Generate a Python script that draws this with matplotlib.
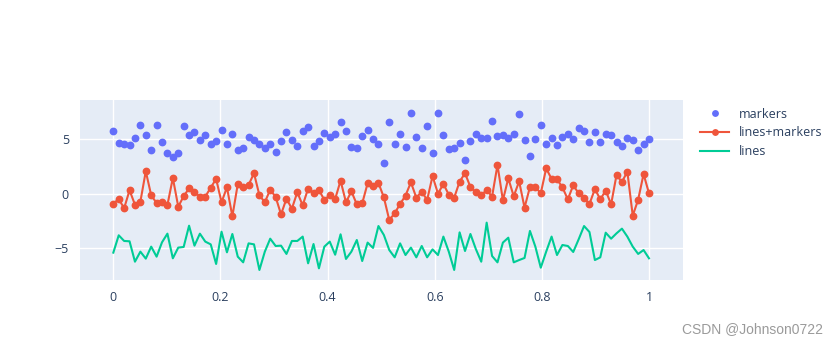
import numpy as np
import matplotlib
matplotlib.use("Agg")
import matplotlib.pyplot as plt

plt.rcParams['font.family'] = ['Open Sans', 'DejaVu Sans']

# 100 points on [0, 1]
x = np.linspace(0, 1, 100)

markers_y = [
    5.78, 4.65, 4.59, 4.50, 5.17, 6.33, 5.41, 4.04, 6.33, 4.74,
    3.73, 3.36, 3.73, 6.21, 5.44, 5.66, 4.98, 5.41, 4.59, 4.86,
    5.90, 4.62, 5.54, 4.06, 4.19, 5.26, 4.95, 4.56, 4.25, 4.59,
    3.82, 4.83, 5.69, 4.92, 4.43, 5.78, 6.18, 4.43, 4.83, 5.57,
    5.26, 5.47, 6.64, 5.75, 4.34, 4.25, 5.35, 5.84, 5.08, 4.59,
    2.87, 6.61, 4.62, 5.50, 4.28, 7.46, 5.20, 4.19, 6.24, 3.73,
    7.46, 5.38, 4.13, 4.25, 4.65, 3.12, 4.89, 5.47, 5.17, 5.17,
    6.70, 5.35, 5.44, 5.17, 5.47, 7.34, 4.95, 3.49, 5.02, 6.36,
    4.56, 5.14, 4.46, 5.26, 5.50, 5.05, 6.09, 5.78, 4.74, 5.72,
    4.74, 5.47, 5.44, 4.80, 4.40, 5.11, 4.95, 4.04, 4.59, 5.02,
]

lines_markers_y = [
    -0.89, -0.46, -1.31, 0.34, -0.98, -0.70, 2.08, -0.12, -0.83, -0.70,
    -1.01, 1.47, -1.16, -0.21, 0.52, 0.15, -0.24, -0.24, 0.58, 1.38,
    -0.76, 0.61, -2.05, 0.90, 0.61, 0.83, 1.90, -0.12, -0.76, 0.40,
    -0.28, -1.87, -0.43, -1.35, 0.15, -1.04, 0.49, 0.09, 0.37, -0.55,
    -0.09, -0.46, 1.22, -0.76, 0.24, -0.95, -0.86, 0.98, 0.73, 1.01,
    -0.31, -2.39, -1.77, -0.92, -0.15, 1.07, -0.34, 0.21, -0.55, 1.65,
    0.03, 0.92, -0.06, -0.34, 1.13, 1.90, 0.64, 0.15, -0.12, 0.37,
    -0.24, 2.66, -0.58, 1.44, -0.21, 1.16, -1.25, 0.64, 0.64, 0.06,
    2.35, 1.38, 1.35, 0.61, -0.49, 0.80, 0.06, -0.37, -0.92, 0.46,
    -0.49, 0.31, -0.95, 1.74, 1.10, 2.05, -1.99, -0.52, 1.83, 0.06,
]

lines_y = [
    -5.38, -3.79, -4.31, -4.34, -6.21, -5.29, -5.93, -4.83, -5.75, -4.43,
    -3.64, -5.90, -4.92, -4.86, -2.91, -4.74, -3.64, -4.37, -4.62, -6.42,
    -3.46, -5.35, -3.67, -5.75, -6.27, -4.53, -4.62, -6.97, -5.29, -4.10,
    -4.77, -4.74, -5.50, -4.31, -4.31, -3.91, -6.36, -4.59, -6.82, -4.83,
    -4.37, -5.57, -3.70, -5.96, -5.29, -4.22, -6.15, -4.46, -4.95, -2.94,
    -3.76, -5.14, -5.81, -4.53, -5.60, -4.92, -5.81, -4.77, -5.81, -5.08,
    -5.60, -3.91, -5.29, -6.97, -3.52, -5.23, -3.67, -5.05, -6.21, -2.63,
    -5.69, -6.27, -4.46, -4.01, -6.27, -6.06, -5.87, -3.39, -4.83, -6.76,
    -5.29, -3.91, -5.60, -4.68, -4.77, -5.32, -4.16, -2.94, -3.49, -6.06,
    -5.81, -3.55, -4.10, -3.61, -3.18, -3.91, -4.83, -5.50, -5.14, -5.90,
]

xticks = [0, 0.2, 0.4, 0.6, 0.8, 1]
xtick_labels = ['0', '0.2', '0.4', '0.6', '0.8', '1']
yticks = [-5, 0, 5]
ytick_labels = ['\u22125', '0', '5']

fig = plt.figure(figsize=(8.39, 3.6), dpi=100)
ax = fig.add_axes([80 / 839, 1 - 280 / 360, (683 - 80) / 839, 180 / 360])
ax.set_facecolor('#E5ECF6')

ax.plot(x, markers_y, 'o', color='#636efa', markersize=4.6, label='markers', zorder=3)
ax.plot(x, lines_markers_y, '-o', color='#EF553B', markersize=4.6, linewidth=1.5,
        label='lines+markers', zorder=3)
ax.plot(x, lines_y, '-', color='#00cc96', linewidth=1.5, label='lines', zorder=3)

ax.set_xlim(-0.0622, 1.0635)
ax.set_ylim(-7.89, 8.62)
ax.set_xticks(xticks, xtick_labels)
ax.set_yticks(yticks, ytick_labels)
ax.grid(color='white', linewidth=1)
ax.set_axisbelow(True)
for s in ax.spines.values():
    s.set_visible(False)
ax.tick_params(length=0, labelsize=9, colors='#2a3f5f', pad=8)

leg = ax.legend(loc='upper left', bbox_to_anchor=(1.01, 1.02), frameon=False,
                fontsize=9, handlelength=2.3, labelspacing=0.45, markerscale=0.85)
for t in leg.get_texts():
    t.set_color('#2a3f5f')

fig.text(0.981, 0.085, 'CSDN @Johnson0722', ha='right', va='center',
         fontsize=10, color='#9a9a9a', family=['Liberation Sans', 'DejaVu Sans'])

fig.savefig('out.png', dpi=100)
